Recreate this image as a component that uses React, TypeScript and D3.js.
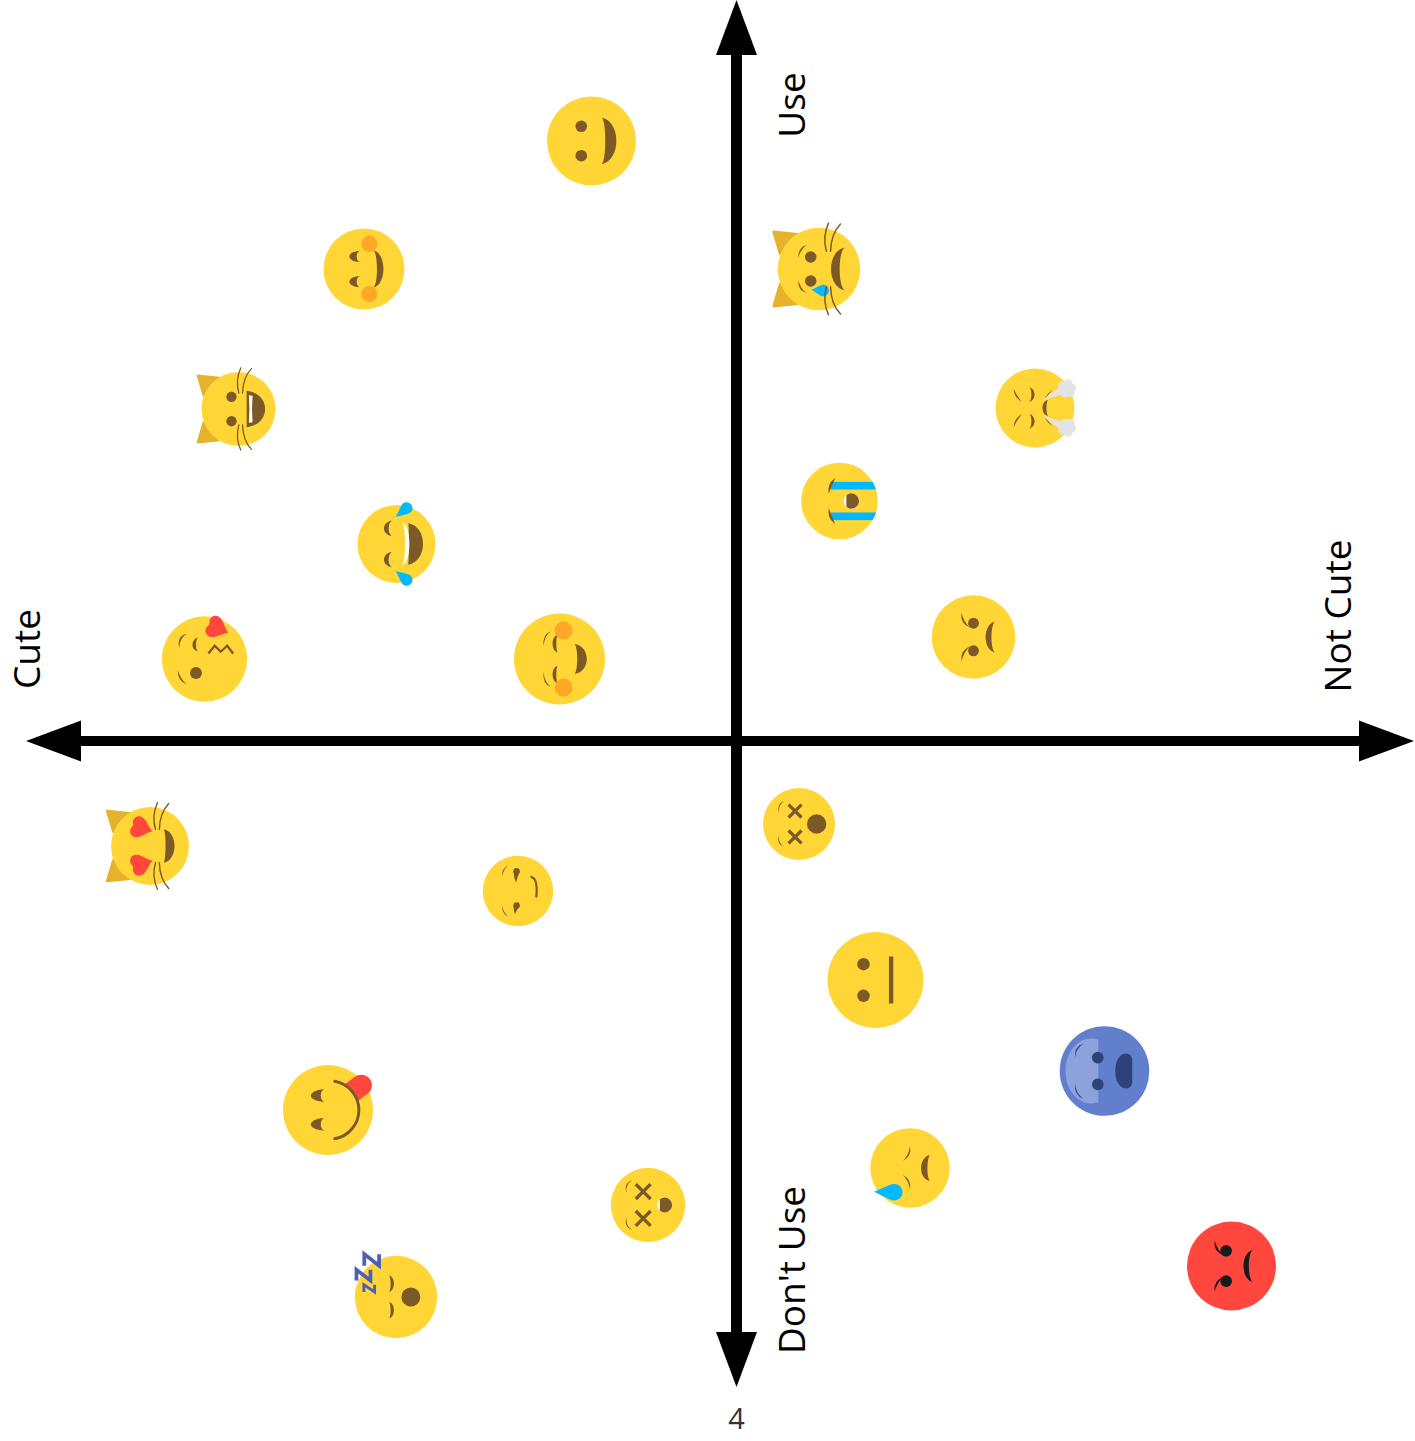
import React from 'react';
import * as d3 from 'd3';

const WIDTH = 1415;
const HEIGHT = 1441;

// score on each axis (0,0 is where the arrows cross)
const emojiNames = [
  'smile', 'blush', 'catLaugh', 'joy', 'kissHeart', 'blushOpen', 'catTear', 'steam', 'sob', 'frown',
  'catHearts', 'smirk', 'yum', 'dizzy', 'neutral', 'fearful', 'tear', 'angry', 'dizzyOpen', 'sleeping',
];
const cuteScores = [-145, -372.5, -498, -340, -532, -177, 82.5, 298.5, 103, 237, -586.5, -218.5, -408.5, 62.5, 139, 368, 173.5, 495, -88.5, -340.5];
const useScores = [600, 472, 332, 197, 82, 82, 472, 333, 240, 104, -105, -150, -369, -83, -239, -330, -427, -525, -464, -556];
const faceSizes = [44.5, 40.5, 37, 39, 42.7, 45.5, 41.3, 39.5, 38.3, 41.8, 39, 35.2, 45, 36, 48, 44.8, 39.7, 44.5, 37.2, 41.2];

const cuteExtent = [-710.5, 677.5];
const useExtent = [741, -646];
const axisLabels = ['Use', "Don't Use", 'Cute', 'Not Cute'];
const pageLabel = '4';

const x = d3.scaleLinear().domain([-736.5, 678.5]).range([0, WIDTH]);
const y = d3.scaleLinear().domain([741, -700]).range([0, HEIGHT]);

const YELLOW = '#FFD636';
const BROWN = '#7C5A28';
const BLUE = '#00B9FF';
const RED = '#FF473E';
const ORANGE = '#FFA726';
const EAR = '#E6B12B';

// ---- glyph helpers, everything in a face of radius 100 ----

function crescent(x0, h, outer, inner, cy = 0) {
  const k = h * 0.85;
  const co = x0 + ((outer - x0) * 4) / 3;
  const ci = x0 + ((inner - x0) * 4) / 3;
  return `M${x0} ${cy - h}C${co} ${cy - k} ${co} ${cy + k} ${x0} ${cy + h}C${ci} ${cy + k} ${ci} ${cy - k} ${x0} ${cy - h}Z`;
}

function brow(x1, y1, cx, cy, x2, y2, t = 5) {
  const mx = (x1 + x2) / 2;
  const my = (y1 + y2) / 2;
  const len = Math.hypot(mx - cx, my - cy) || 1;
  const c2x = cx + ((mx - cx) / len) * t * 2;
  const c2y = cy + ((my - cy) / len) * t * 2;
  return `M${x1} ${y1}Q${cx} ${cy} ${x2} ${y2}Q${c2x} ${c2y} ${x1} ${y1}Z`;
}

function dropPath(tx, ty, cx, cy, r) {
  const d = Math.hypot(cx - tx, cy - ty);
  const a = Math.atan2(cy - ty, cx - tx);
  const b = Math.asin(r / d);
  const l = Math.sqrt(d * d - r * r);
  const p1 = [tx + l * Math.cos(a + b), ty + l * Math.sin(a + b)];
  const p2 = [tx + l * Math.cos(a - b), ty + l * Math.sin(a - b)];
  return `M${tx} ${ty}L${p1[0]} ${p1[1]}A${r} ${r} 0 1 0 ${p2[0]} ${p2[1]}Z`;
}

const HEART = 'M1 0C.5 -.25 .15 -.95 -.4 -.95C-.85 -.95 -1.05 -.45 -.85 -.15Q-.78 0 -.85 .15C-1.05 .45 -.85 .95 -.4 .95C.15 .95 .5 .25 1 0Z';

const Brown = ({ d }) => <path d={d} fill={BROWN} />;
const Dot = ({ cx, cy = 0, r, fill = BROWN }) => <circle cx={cx} cy={cy} r={r} fill={fill} />;

// draws the children and their copy flipped top to bottom
const Mirror = ({ children }) => (
  <>
    <g>{children}</g>
    <g transform="scale(1,-1)">{children}</g>
  </>
);

const Heart = ({ cx, cy, s, rot }) => (
  <path d={HEART} fill={RED} transform={`translate(${cx},${cy}) rotate(${rot}) scale(${s})`} />
);

const Cross = ({ cx, cy, a }) => (
  <path d={`M${cx - a} ${cy - a}L${cx + a} ${cy + a}M${cx + a} ${cy - a}L${cx - a} ${cy + a}`} stroke={BROWN} strokeWidth={9} fill="none" />
);

const OpenMouth = ({ cx, r, chord }) => {
  const s = Math.sqrt(r * r - (chord - cx) * (chord - cx));
  return (
    <>
      <circle cx={cx} r={r} fill="#fff" />
      <path d={`M${chord} ${-s}A${r} ${r} 0 1 1 ${chord} ${s}Z`} fill={BROWN} />
    </>
  );
};

const Ears = () => (
  <Mirror>
    <path d="M-110 -90L-52 -84L-94 -36Z" fill={EAR} stroke={EAR} strokeWidth={6} strokeLinejoin="round" />
  </Mirror>
);

const Whiskers = ({ dx }) => (
  <Mirror>
    <path
      d={`M${dx + 1} -43Q${dx - 9} -78 ${dx + 6} -111M${dx + 11} -43Q${dx + 12} -85 ${dx + 35} -109`}
      fill="none"
      stroke={BROWN}
      strokeWidth={3.5}
      strokeLinecap="round"
    />
  </Mirror>
);

const CloudPuff = () => (
  <g fill="#E3E3E3">
    <path d="M19 -19L68 -58L74 -36Z" />
    <circle cx={81} cy={-49} r={17} />
    <circle cx={70} cy={-57} r={11} />
    <circle cx={84} cy={-62} r={11} />
    <circle cx={94} cy={-51} r={10} />
    <circle cx={90} cy={-38} r={10} />
    <circle cx={76} cy={-37} r={10} />
  </g>
);

const ZedMark = ({ cx, cy, w, h, sw }) => (
  <path
    d={`M${cx - w} ${cy + h}L${cx - w} ${cy - h}L${cx + w} ${cy + h}L${cx + w} ${cy - h}`}
    fill="none"
    stroke="#4B5FB9"
    strokeWidth={sw}
    strokeLinejoin="miter"
  />
);

// ---- the faces ----

const faceColor = { fearful: '#627FCE', angry: RED };

const faces = {
  smile: () => (
    <>
      <Mirror><Dot cx={-23} cy={-33} r={13} /></Mirror>
      <Brown d={crescent(23, 52, 56, 31)} />
    </>
  ),
  blush: () => (
    <>
      <Mirror>
        <Brown d={crescent(-10, 14, -36, -18, -31)} />
      </Mirror>
      <Brown d={crescent(23, 46, 48, 32)} />
      <Mirror><Dot cx={13} cy={-62} r={20} fill={ORANGE} /></Mirror>
    </>
  ),
  catLaugh: () => (
    <>
      <Mirror><Dot cx={-19} cy={-33} r={14} /></Mirror>
      <Brown d={crescent(22, 49, 72, 22)} />
      <path d="M28 -37L38 -36Q35 0 38 36L28 37Q31 0 28 -37Z" fill="#fff" />
      <Whiskers dx={0} />
    </>
  ),
  joy: () => (
    <>
      <Mirror><Brown d={crescent(-10, 20, -32, -20, -40)} /></Mirror>
      <Brown d={crescent(30, 53, 68, 32)} />
      <path d={crescent(15, 55, 33, 22)} fill="#fff" />
      <Mirror><path d={dropPath(-2, -69, 26, -92, 15)} fill={BLUE} /></Mirror>
    </>
  ),
  kissHeart: () => (
    <>
      <Brown d={brow(-41, -59, -66, -54, -59, -25, 4)} />
      <Brown d={brow(-62, 26, -65, 50, -40, 61, 4)} />
      <Brown d={crescent(-15, 16, -28, -20, -34)} />
      <Dot cx={-20} cy={33} r={14} />
      <path d="M9 -13L24 -31L38 -17L53 -31L67 -13" fill="none" stroke={BROWN} strokeWidth={5.5} />
      <Heart cx={31} cy={-72} s={27} rot={24} />
    </>
  ),
  blushOpen: () => (
    <>
      <Mirror>
        <Brown d={brow(-19, -61, -38, -55, -35, -28, 3)} />
        <Brown d={crescent(-4, 19, -15, -7, -34)} />
      </Mirror>
      <Brown d={crescent(33, 33, 60, 39)} />
      <Mirror><Dot cx={9} cy={-63} r={20} fill={ORANGE} /></Mirror>
    </>
  ),
  catTear: () => (
    <>
      <Mirror>
        <Dot cx={-20} cy={-29} r={14} />
        <Brown d={brow(-50, -27, -52, -51, -30, -59, 4)} />
      </Mirror>
      <Brown d={crescent(63, 52, 29, 50)} />
      <path d={dropPath(-18, 50, 10, 52, 14)} fill={BLUE} />
      <Whiskers dx={17} />
    </>
  ),
  steam: () => (
    <>
      <Mirror>
        <Brown d={brow(-54, -49, -54, -28, -33, -15, 4)} />
        <Brown d={crescent(-15, 18, -1, -9, -34)} />
        <Brown d={brow(44, -45, 30, -38, 24, -20, 2)} />
      </Mirror>
      <Brown d={crescent(33, 20, 19, 29)} />
      <Mirror><CloudPuff /></Mirror>
    </>
  ),
  sob: () => (
    <>
      <Mirror>
        <rect x={-23} y={-50} width={125} height={20} fill={BLUE} clipPath="url(#face-clip)" />
        <Brown d={brow(-11, -60, -33, -46, -28, -19, 7)} />
      </Mirror>
      <OpenMouth cx={31} r={20} chord={18} />
    </>
  ),
  frown: () => (
    <>
      <Mirror>
        <Dot cx={0} cy={-33} r={13} />
        <Brown d={brow(-29, -59, -32, -30, -8, -22, 5)} />
      </Mirror>
      <Brown d={crescent(52, 37, 29, 43)} />
    </>
  ),
  catHearts: () => (
    <>
      <Mirror><Heart cx={-21} cy={-46} s={29} rot={17} /></Mirror>
      <Brown d={crescent(35, 43, 63, 40)} />
      <Whiskers dx={13} />
    </>
  ),
  smirk: () => (
    <>
      <Mirror>
        <Brown d={brow(-28, -73, -47, -63, -45, -42, 3)} />
      </Mirror>
      <Dot cx={-4} cy={-56} r={9} />
      <Brown d="M-13 -56Q-11 -36 -6 -24Q-1 -40 5 -56Z" />
      <Dot cx={-4} cy={41} r={9} />
      <Brown d="M-13 41Q-12 56 -9 66Q-4 54 5 41Z" />
      <path d="M38 -40Q57 -35 52 16" fill="none" stroke={BROWN} strokeWidth={6} strokeLinecap="round" />
    </>
  ),
  yum: () => (
    <>
      <path d="M38 -58L60 -74L88 -36L66 -20Z" fill={RED} />
      <circle cx={74} cy={-55} r={23.6} fill={RED} />
      <Mirror><Brown d={crescent(-8, 14, -38, -16, -32)} /></Mirror>
      <path d="M15 -64A65 65 0 0 1 15 64" fill="none" stroke={BROWN} strokeWidth={6.5} strokeLinecap="round" />
    </>
  ),
  dizzy: () => (
    <>
      <Mirror>
        <Brown d={brow(-41, -64, -64, -57, -55, -29, 3)} />
        <Cross cx={-11} cy={-36} a={18} />
      </Mirror>
      <Dot cx={49} r={27} />
    </>
  ),
  neutral: () => (
    <>
      <Mirror><Dot cx={-25} cy={-33} r={13} /></Mirror>
      <rect x={28} y={-49} width={9} height={98} fill={BROWN} />
    </>
  ),
  fearful: () => (
    <>
      <path d="M-14 -70C-50 -82 -87 -50 -87 0C-87 50 -50 82 -14 70Z" fill="#8CA2DC" />
      <Mirror>
        <Dot cx={-15} cy={-30} r={13} fill="#2D4278" />
        <path d={brow(-47, -61, -68, -56, -66, -28, 3)} fill="#2D4278" />
      </Mirror>
      <path d="M62 -25Q60 -39 48 -39C32 -39 24 -20 24 0C24 20 32 39 48 39Q60 39 62 25Z" fill="#2D4278" />
    </>
  ),
  tear: () => (
    <>
      <Mirror><Brown d={brow(0, -56, 5, -30, -18, -17, 4)} /></Mirror>
      <Brown d={crescent(51, 33, 28, 44)} />
      <path d={dropPath(-91, 60, -40, 61, 21)} fill={BLUE} />
    </>
  ),
  angry: () => (
    <>
      <Mirror>
        <Dot cx={-12} cy={-34} r={13} fill="#1A1A1A" />
        <path d={brow(-38, -58, -41, -32, -18, -24, 5)} fill="#1A1A1A" />
      </Mirror>
      <path d={crescent(48, 36, 27, 39)} fill="#1A1A1A" />
    </>
  ),
  dizzyOpen: () => (
    <>
      <Mirror>
        <Brown d={brow(-42, -66, -66, -60, -58, -32, 3)} />
        <Cross cx={-13} cy={-36} a={20} />
      </Mirror>
      <OpenMouth cx={45} r={20} chord={32} />
    </>
  ),
  sleeping: () => (
    <>
      <Mirror><Brown d={crescent(-17, 20, -5, -13, -32)} /></Mirror>
      <Dot cx={36} r={23} />
      <ZedMark cx={-59} cy={-90} w={18} h={14} sw={9} />
      <ZedMark cx={-79} cy={-53} w={17} h={13} sw={9} />
      <ZedMark cx={-65} cy={-21} w={13} h={9} sw={7} />
    </>
  ),
};

const catNames = ['catLaugh', 'catTear', 'catHearts'];

function Face({ name, size, cute, use }) {
  const Glyph = faces[name];
  return (
    <g transform={`translate(${x(cute)},${y(use)}) scale(${size / 100})`}>
      {catNames.includes(name) && <Ears />}
      <circle r={100} fill={faceColor[name] || YELLOW} />
      <Glyph />
    </g>
  );
}

const arrowLine = d3.line();

function Axes() {
  const [left, right] = cuteExtent.map(x);
  const [top, bottom] = useExtent.map(y);
  const cx = x(0);
  const cy = y(0);
  const head = 55;
  const half = 20.5;
  const heads = [
    [[cx, top], [cx - half, top + head], [cx + half, top + head]],
    [[cx, bottom], [cx - half, bottom - head], [cx + half, bottom - head]],
    [[left, cy], [left + head, cy - half], [left + head, cy + half]],
    [[right, cy], [right - head, cy - half], [right - head, cy + half]],
  ];
  return (
    <g>
      <path d={arrowLine([[left + 50, cy], [right - 50, cy]])} stroke="#000" strokeWidth={10} />
      <path d={arrowLine([[cx, top + 50], [cx, bottom - 50]])} stroke="#000" strokeWidth={11} />
      {heads.map((h, i) => (
        <path key={i} d={arrowLine(h) + 'Z'} fill="#000" />
      ))}
    </g>
  );
}

export default function App() {
  const font = "'Open Sans', sans-serif";
  const labelPlaces = [
    [805, 105],
    [805, 1270],
    [40, 649],
    [1351, 616],
  ];
  return (
    <svg
      width={WIDTH}
      height={HEIGHT}
      viewBox={`0 0 ${WIDTH} ${HEIGHT}`}
      style={{ position: 'absolute', left: 0, top: 0, background: '#fff' }}
    >
      <defs>
        <clipPath id="face-clip">
          <circle r={100} />
        </clipPath>
      </defs>
      <Axes />
      {emojiNames.map((name, i) => (
        <Face key={name} name={name} size={faceSizes[i]} cute={cuteScores[i]} use={useScores[i]} />
      ))}
      {axisLabels.map((label, i) => (
        <text
          key={label}
          transform={`translate(${labelPlaces[i][0]},${labelPlaces[i][1]}) rotate(-90)`}
          textAnchor="middle"
          fontFamily={font}
          fontSize={37}
          fill="#000"
        >
          {label}
        </text>
      ))}
      <text x={736.5} y={1429} textAnchor="middle" fontFamily={font} fontSize={29} fill="#333">
        {pageLabel}
      </text>
    </svg>
  );
}
